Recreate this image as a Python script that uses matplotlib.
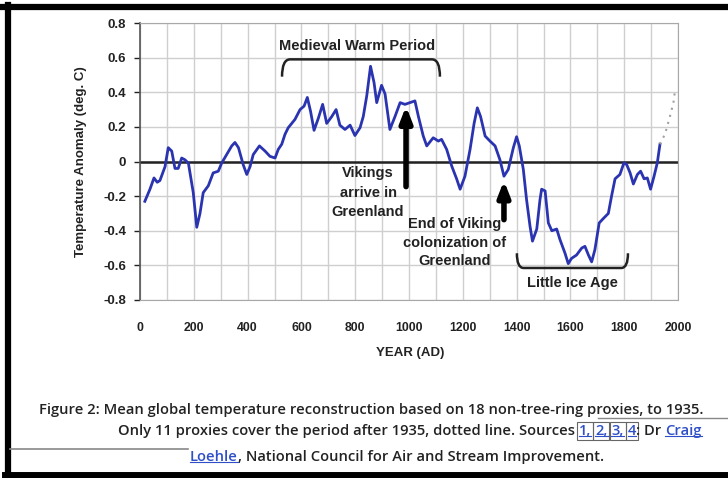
import matplotlib
matplotlib.use("Agg")
import matplotlib.pyplot as plt
from matplotlib.path import Path
from matplotlib import patches
from matplotlib.lines import Line2D

# ---- data (year AD, anomaly deg C) ----
years = [18, 37, 52, 64, 74, 93, 105, 118, 130, 142, 155, 167, 180, 198, 211,
         223, 235, 254, 272, 291, 304, 322, 341, 353, 366, 384, 397, 409, 421,
         444, 465, 483, 502, 514, 527, 539, 551, 576, 595, 610, 622, 634, 647,
         663, 679, 694, 713, 729, 743, 762, 781, 799, 818, 830, 843, 857, 870,
         880, 898, 911, 929, 948, 967, 985, 1004, 1022, 1035, 1053, 1066, 1090,
         1109, 1121, 1140, 1159, 1177, 1190, 1208, 1227, 1242, 1254, 1266, 1283,
         1301, 1320, 1338, 1353, 1369, 1388, 1400, 1410, 1425, 1437, 1450, 1459,
         1475, 1487, 1493, 1506, 1518, 1531, 1549, 1561, 1580, 1592, 1604, 1623,
         1642, 1654, 1667, 1679, 1691, 1707, 1722, 1741, 1753, 1766, 1784, 1799,
         1809, 1822, 1834, 1849, 1861, 1874, 1886, 1898, 1911, 1923, 1933]
temps = [-0.23, -0.16, -0.095, -0.12, -0.11, -0.03, 0.08, 0.06, -0.04, -0.04,
         0.02, 0.01, -0.01, -0.18, -0.38, -0.30, -0.18, -0.14, -0.066, -0.056,
         -0.008, 0.04, 0.09, 0.11, 0.08, -0.02, -0.075, -0.03, 0.04, 0.09, 0.06,
         0.03, 0.02, 0.07, 0.10, 0.157, 0.195, 0.243, 0.30, 0.32, 0.37, 0.29,
         0.18, 0.25, 0.33, 0.22, 0.26, 0.30, 0.21, 0.185, 0.21, 0.15, 0.195,
         0.26, 0.38, 0.55, 0.456, 0.34, 0.44, 0.39, 0.185, 0.26, 0.34, 0.33,
         0.34, 0.35, 0.26, 0.147, 0.09, 0.137, 0.118, 0.128, 0.07, -0.027,
         -0.10, -0.16, -0.085, 0.07, 0.22, 0.31, 0.26, 0.147, 0.118, 0.09,
         0.01, -0.085, -0.046, 0.08, 0.143, 0.09, -0.046, -0.22, -0.375, -0.46,
         -0.39, -0.22, -0.16, -0.17, -0.355, -0.40, -0.39, -0.45, -0.53, -0.59,
         -0.56, -0.54, -0.50, -0.49, -0.54, -0.58, -0.51, -0.355, -0.33, -0.30,
         -0.20, -0.10, -0.075, -0.008, -0.017, -0.066, -0.13, -0.075, -0.056,
         -0.10, -0.095, -0.16, -0.085, -0.008, 0.10]
# after 1935: fewer proxies, dotted
years_late = [1933, 1952, 1970, 1983, 1989]
temps_late = [0.10, 0.16, 0.26, 0.34, 0.41]

xticks = list(range(0, 2001, 200))
yticks = [0.8, 0.6, 0.4, 0.2, 0, -0.2, -0.4, -0.6, -0.8]
ytick_labels = ["0.8", "0.6", "0.4", "0.2", "0", "-0.2", "-0.4", "-0.6", "-0.8"]

W, H = 728, 478
plt.rcParams["font.family"] = ["Liberation Sans", "DejaVu Sans"]

fig = plt.figure(figsize=(W / 100, H / 100), dpi=100)
fig.patch.set_facecolor("white")

# plot area in pixels: x 140..678, y 23..300
ax = fig.add_axes([140 / W, 1 - 300 / H, 538 / W, 277 / H])
ax.set_xlim(0, 2000)
ax.set_ylim(-0.8, 0.8)

ax.set_xticks(xticks)
ax.set_xticks(range(100, 2000, 200), minor=True)
ax.set_yticks(yticks)
ax.set_yticklabels(ytick_labels)
ax.grid(True, which="both", color="#cfcfcf", lw=1)
ax.set_axisbelow(True)
ax.tick_params(axis="x", length=0, pad=16, labelsize=8.8, colors="#222")
ax.tick_params(axis="x", which="minor", length=0)
ax.tick_params(axis="y", length=4, width=1, direction="out", pad=6,
               labelsize=9.5, colors="#222")
for lab in ax.get_xticklabels() + ax.get_yticklabels():
    lab.set_fontweight("bold")
for side in ["top", "right", "bottom"]:
    ax.spines[side].set_color("#a8a8a8")
ax.spines["left"].set_color("#555555")
ax.spines["left"].set_linewidth(1.2)

ax.axhline(0, color="#222222", lw=1.8, zorder=2)

ax.plot(years, temps, color="#2b34b0", lw=2, zorder=3)
ax.plot(years_late, temps_late, color="#a0a0a0", lw=1.5, ls=(0, (1, 2.5)),
        zorder=3)

ax.set_xlabel("YEAR (AD)", fontsize=9.5, fontweight="bold", color="#222")
ax.xaxis.set_label_coords((410 - 140) / 538, (300 - 347) / 277)
ax.set_ylabel("Temperature Anomaly (deg. C)", fontsize=9.5,
              fontweight="bold", color="#222")
ax.yaxis.set_label_coords((87 - 140) / 538, 0.5)

txt = dict(fontsize=10.5, fontweight="bold", color="#222", ha="center",
           va="center")


def bracket(x0, x1, y_end, y_bar, r):
    # bracket with rounded corners
    verts = [(x0, y_end), (x0, y_bar), (x0 + r, y_bar), (x1 - r, y_bar),
             (x1, y_bar), (x1, y_end)]
    codes = [Path.MOVETO, Path.CURVE3, Path.CURVE3, Path.LINETO,
             Path.CURVE3, Path.CURVE3]
    ax.add_patch(patches.PathPatch(Path(verts, codes), fc="none",
                                   ec="#222", lw=1.8, zorder=4))


# Medieval Warm Period
bracket(528, 1115, 0.49, 0.59, 30)
ax.text(807, 0.665, "Medieval Warm Period", **txt)

# Little Ice Age
bracket(1401, 1814, -0.53, -0.615, 25)
ax.text(1606, -0.70, "Little Ice Age", **txt)

# arrows
arrow = dict(arrowstyle="-|>,head_width=0.35,head_length=0.9", color="black",
             lw=4, shrinkA=0, shrinkB=0)
ax.annotate("", xy=(989, 0.32), xytext=(989, -0.145), arrowprops=arrow,
            zorder=5)
ax.annotate("", xy=(1353, -0.11), xytext=(1353, -0.336), arrowprops=arrow,
            zorder=5)
ax.text(848, -0.18, "Vikings\narrive in\nGreenland", linespacing=1.5, **txt)
ax.text(1171, -0.47, "End of Viking\ncolonization of\nGreenland",
        linespacing=1.42, **txt)

# ---- caption below the chart ----
cap = dict(fontsize=10.6, fontweight="semibold", color="#222",
           family=["Open Sans", "DejaVu Sans"])
fig.text(371 / W, 1 - 410 / H,
         "Figure 2: Mean global temperature reconstruction based on 18 "
         "non-tree-ring proxies, to 1935.", ha="center", va="center", **cap)

link = dict(cap, color="#2f4fc8")
pieces = [("Only 11 proxies cover the period after 1935, dotted line. Sources",
           cap, False), (" ", cap, False), ("1,", link, True), (" ", cap, False),
          ("2,", link, True), (" ", cap, False), ("3,", link, True),
          (" ", cap, False), ("4", link, True), (": Dr ", cap, False),
          ("Craig", link, False)]
prev = fig.text(118 / W, 1 - 435 / H, pieces[0][0], ha="left",
                va="baseline", **pieces[0][1])
links = []
for s, style, boxed in pieces[1:]:
    kw = dict(style)
    if boxed:
        kw["bbox"] = dict(boxstyle="square,pad=0.12", fc="none", ec="#666",
                          lw=0.8)
    prev = ax.annotate(s, xy=(1, 0), xycoords=prev, ha="left", va="bottom",
                       annotation_clip=False, **kw)
    if style is link:
        links.append(prev)

first = fig.text(190 / W, 1 - 461 / H, "Loehle", ha="left", va="baseline",
                 **link)
links.append(first)
ax.annotate(", National Council for Air and Stream Improvement.", xy=(1, 0),
            xycoords=first, ha="left", va="bottom", annotation_clip=False,
            **cap)

# underline the links
fig.canvas.draw()
r = fig.canvas.get_renderer()
for t in links:
    bb = t.get_window_extent(r)
    fig.add_artist(Line2D([bb.x0, bb.x1], [bb.y0 + 2, bb.y0 + 2],
                          transform=None, color="#2f4fc8", lw=0.8))

# page furniture: black frame and grey rules
fig.add_artist(Line2D([0, W], [H - 7, H - 7], transform=None, color="black",
                      lw=4.5))
fig.add_artist(Line2D([7.5, 7.5], [0, H - 5], transform=None, color="black",
                      lw=4.5))
fig.add_artist(Line2D([5, W], [3, 3], transform=None, color="black", lw=5))
fig.add_artist(Line2D([10, 188], [H - 449, H - 449], transform=None,
                      color="#888", lw=1.2))
fig.add_artist(Line2D([598, W], [H - 418, H - 418], transform=None,
                      color="#888", lw=1.0))

fig.savefig("out.png", dpi=100)
